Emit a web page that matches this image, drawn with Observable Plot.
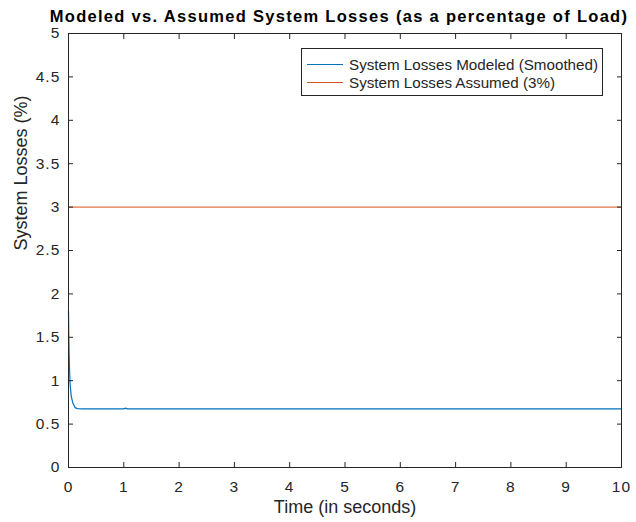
<!DOCTYPE html>
<html>
<head>
<meta charset="utf-8">
<script src="https://cdn.jsdelivr.net/npm/d3@7"></script>
<script src="https://cdn.jsdelivr.net/npm/@observablehq/plot@0.6"></script>
<style>
  html, body { margin: 0; padding: 0; background: #fff; }
  #wrap { position: relative; width: 636px; height: 522px; font-family: "Liberation Sans", Arial, sans-serif; }
  #wrap svg g[aria-label$="tick label"] text { letter-spacing: 1.1px; }
  #legend { position: absolute; left: 301px; top: 48px; width: 302px; height: 48px; border: 1px solid #262626; background: #fff; box-sizing: border-box; font-size: 15.2px; color: #262626; }
  .row { position: absolute; left: 0; height: 18px; display: flex; align-items: center; }
  .sw { width: 36px; height: 0; margin-left: 5px; margin-right: 6px; border-top: 1px solid; }
</style>
</head>
<body>
<div id="wrap"></div>
<script>
const title = "Modeled vs. Assumed System Losses (as a percentage of Load)";
const xLabel = "Time (in seconds)";
const yLabel = "System Losses (%)";
const xTicks = [0, 1, 2, 3, 4, 5, 6, 7, 8, 9, 10];
const yTicks = [0, 0.5, 1, 1.5, 2, 2.5, 3, 3.5, 4, 4.5, 5];
const seriesNames = ["System Losses Modeled (Smoothed)", "System Losses Assumed (3%)"];
const seriesColors = ["#0072BD", "#D95319"];
// Modeled (smoothed) losses
const modeledTime = [0, 0.005, 0.01, 0.02, 0.03, 0.05, 0.08, 0.12, 0.16, 0.25, 1.0, 1.03, 1.06, 10];
const modeledLoss = [1.80, 1.55, 1.35, 1.10, 0.95, 0.82, 0.74, 0.69, 0.678, 0.676, 0.676, 0.684, 0.676, 0.676];
// Assumed losses
const assumedTime = [0, 10];
const assumedLoss = [3, 3];

const modeled = modeledTime.map((t, i) => ({t, v: modeledLoss[i]}));
const assumed = assumedTime.map((t, i) => ({t, v: assumedLoss[i]}));

const axisColor = "#262626";
const chart = Plot.plot({
  width: 636,
  height: 522,
  marginLeft: 68,
  marginRight: 15,
  marginTop: 33,
  marginBottom: 55,
  style: {fontFamily: "'Liberation Sans', Arial, sans-serif", fontSize: "15.5px", color: axisColor, background: "#fff"},
  x: {domain: [0, 10], label: null},
  y: {domain: [0, 5], label: null},
  marks: [
    Plot.line(assumed, {x: "t", y: "v", stroke: seriesColors[1], strokeWidth: 1}),
    Plot.line(modeled, {x: "t", y: "v", stroke: seriesColors[0], strokeWidth: 1.2}),
    Plot.frame({stroke: axisColor, strokeWidth: 1}),
    Plot.axisX(xTicks, {anchor: "bottom", tickSize: -5, tickPadding: 18, tickFormat: d => String(d), stroke: axisColor, fontSize: 15.5}),
    Plot.axisX(xTicks, {anchor: "top", tickSize: -5, tickFormat: () => "", stroke: axisColor}),
    Plot.axisY(yTicks, {anchor: "left", tickSize: -5, tickPadding: 13, tickFormat: d => String(d), stroke: axisColor, fontSize: 15.5}),
    Plot.axisY(yTicks, {anchor: "right", tickSize: -5, tickFormat: () => "", stroke: axisColor}),
    Plot.text([xLabel], {frameAnchor: "bottom", dy: 45, fontSize: 18, fill: axisColor}),
    Plot.text([yLabel], {frameAnchor: "left", dx: -47, rotate: -90, fontSize: 18, fill: axisColor}),
    Plot.text([title], {frameAnchor: "top", dy: -23, dx: -6, fontSize: 16.5, fontWeight: "bold", fill: "#000"})
  ]
});

const wrap = document.getElementById("wrap");
wrap.appendChild(chart);
d3.select(chart).selectAll("text").filter(function() { return this.textContent === title; })
  .style("letter-spacing", "1.3px");

const legend = document.createElement("div");
legend.id = "legend";
seriesNames.forEach((name, i) => {
  const row = document.createElement("div");
  row.className = "row";
  row.style.top = (i === 0 ? 6 : 24) + "px";
  const sw = document.createElement("span");
  sw.className = "sw";
  sw.style.borderTopColor = seriesColors[i];
  const label = document.createElement("span");
  label.textContent = name;
  row.appendChild(sw);
  row.appendChild(label);
  legend.appendChild(row);
});
wrap.appendChild(legend);
</script>
</body>
</html>
